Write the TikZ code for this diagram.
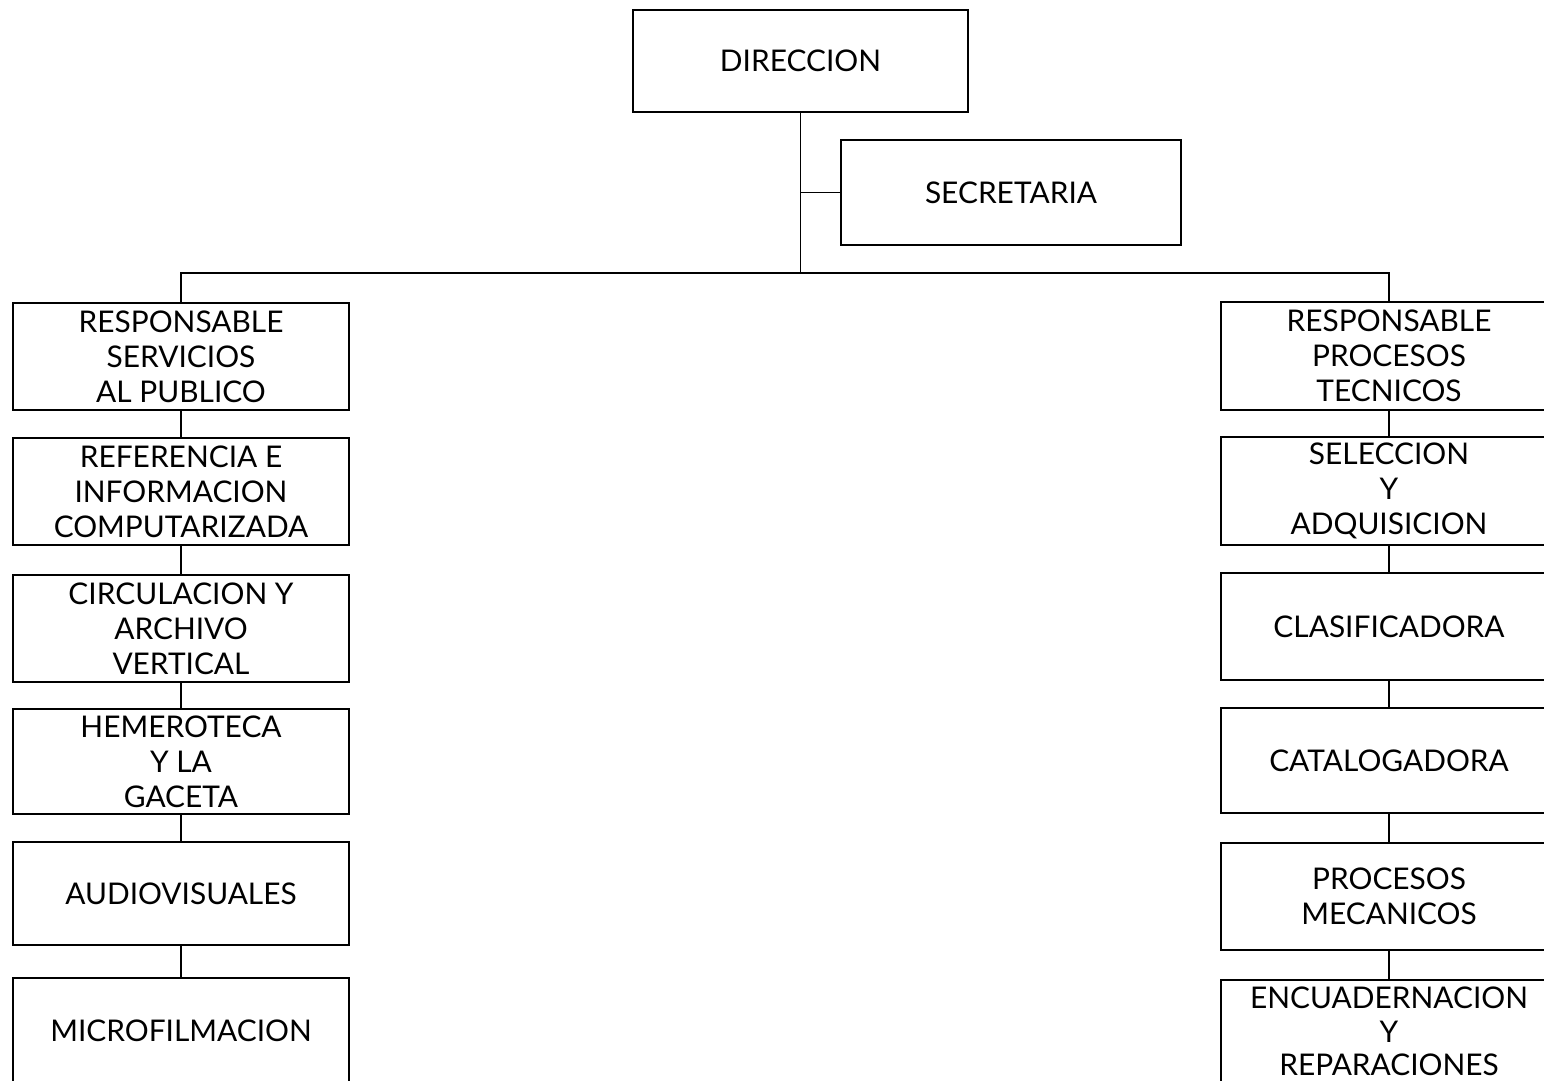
\documentclass[tikz,border=0pt]{standalone}
\usepackage{fontspec}
\setmainfont{Lato}
\usepackage{tikz}

\tikzset{
  unit/.style={draw, rectangle, line width=0.8pt, inner sep=0pt, align=center,
    minimum width=6.72cm, minimum height=2.14cm,
    font=\fontsize{17}{20}\selectfont},
  link/.style={line width=0.8pt}
}

\begin{document}
\begin{tikzpicture}[x=0.02cm, y=-0.02cm]
        \useasboundingbox (0,0) rectangle (1544,1080);
        \clip (0,0) rectangle (1544,1080);

        \node[unit, minimum width=6.7cm, minimum height=2.04cm] (dir) at (800.5,61) {DIRECCION};
        \node[unit, minimum width=6.8cm, minimum height=2.1cm] (sec) at (1011,192.5) {SECRETARIA};

        % left column
        \node[unit] (pub) at (181,356.5) {RESPONSABLE\\SERVICIOS\\AL PUBLICO};
        \node[unit] (ref) at (181,491.5) {REFERENCIA E\\INFORMACION\\COMPUTARIZADA};
        \node[unit] (circ) at (181,628.5) {CIRCULACION Y\\ARCHIVO\\VERTICAL};
        \node[unit, minimum height=2.1cm] (hem) at (181,761.5) {HEMEROTECA\\Y LA\\GACETA};
        \node[unit, minimum height=2.06cm] (audio) at (181,893.5) {AUDIOVISUALES};
        \node[unit, minimum height=2.1cm] (micro) at (181,1030.5) {MICROFILMACION};

        % right column
        \node[unit, minimum height=2.16cm] (tec) at (1389,356) {RESPONSABLE\\PROCESOS\\TECNICOS};
        \node[unit, minimum height=2.16cm] (sel) at (1389,491) {SELECCION\\Y\\ADQUISICION};
        \node[unit] (clas) at (1389,626.5) {CLASIFICADORA};
        \node[unit, minimum height=2.1cm] (cat) at (1389,760.5) {CATALOGADORA};
        \node[unit] (mec) at (1389,896.5) {PROCESOS\\MECANICOS};
        \node[unit, minimum height=2.16cm, text depth=0.1cm,
              font=\fontsize{17}{19}\selectfont] (enc) at (1389,1034) {ENCUADERNACION\\Y\\REPARACIONES};

        \coordinate (hub) at (dir.south |- 0,273);

        \draw[link] (dir) -- (hub);
        \draw[link] (sec.west) -- (sec.west -| hub);
        \draw[link] (pub.north) |- (hub) -| (tec.north);

        \draw[link] (pub) -- (ref);
        \draw[link] (ref) -- (circ);
        \draw[link] (circ) -- (hem);
        \draw[link] (hem) -- (audio);
        \draw[link] (audio) -- (micro);

        \draw[link] (tec) -- (sel);
        \draw[link] (sel) -- (clas);
        \draw[link] (clas) -- (cat);
        \draw[link] (cat) -- (mec);
        \draw[link] (mec) -- (enc);
    \end{tikzpicture}
\end{document}
